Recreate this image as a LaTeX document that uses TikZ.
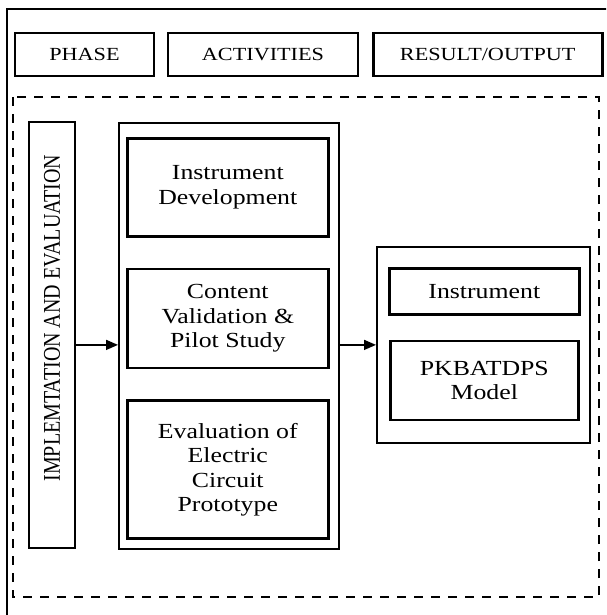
\documentclass[tikz,border=0pt]{standalone}
\usepackage{graphicx}
\usepackage{fontspec}
\setmainfont[FakeStretch=1.2]{Liberation Serif}
\newfontfamily\narrowserif{Liberation Serif}
\usetikzlibrary{positioning, arrows.meta}

\begin{document}
\begin{tikzpicture}[
    x=1pt, y=-1pt,
    every node/.style={draw, align=center, inner sep=0pt},
    header/.style={rectangle, line width=2pt, minimum height=43pt, font=\fontsize{18.5}{22}\selectfont},
    phasebox/.style={rectangle, line width=2pt, font=\narrowserif\fontsize{20}{22}\selectfont},
    group/.style={rectangle, line width=1.8pt},
    activity/.style={rectangle, line width=2.6pt, minimum width=201pt, font=\fontsize{21.5}{24.5}\selectfont},
    output/.style={rectangle, line width=2.6pt, font=\fontsize{21.5}{24.5}\selectfont},
    >={Triangle[length=12pt, width=10pt]}
]

    \clip (0,0) rectangle (606,615);

    % Page frame and dashed phase area
    \draw[line width=2pt] (7,9) rectangle (650,650);
    \draw[line width=2.5pt, dash pattern=on 9pt off 8pt] (13,97) rectangle (599,597);

    % Column headers
    \node[header, minimum width=139pt, anchor=north west] (phase) at (14,32) {PHASE};
    \node[header, minimum width=190pt, right=12pt of phase] (activities) {ACTIVITIES};
    \node[header, minimum width=229pt, line width=2.5pt, right=13pt of activities] (result) {RESULT/OUTPUT};

    % Phase
    \node[phasebox, rotate=90, minimum width=426pt, minimum height=46pt] (impl) at (52,335)
        {\hspace*{34pt}\scalebox{1}[1.2]{IMPLEMTATION AND EVALUATION}};

    % Activities
    \node[group, minimum width=220pt, minimum height=426pt, anchor=north west] (acts) at (118,122) {};
    \node[activity, minimum height=98pt, anchor=north west] (develop) at (126,137) {Instrument\\Development};
    \node[activity, minimum height=99pt, below=30pt of develop] (validate) {Content\\Validation \&\\Pilot Study};
    \node[activity, minimum height=138pt, below=30pt of validate] (prototype) {Evaluation of\\Electric\\Circuit\\Prototype};

    % Result / output
    \node[group, minimum width=213pt, minimum height=196pt, anchor=north west] (outputs) at (376,246) {};
    \node[output, minimum width=190pt, minimum height=46pt, anchor=north west] (instrument) at (388,267) {Instrument};
    \node[output, minimum width=188pt, minimum height=79pt, below=24pt of instrument] (model) {PKBATDPS\\Model};

    % Arrows
    \draw[->, line width=1.5pt] (impl.south |- outputs.west) -- (acts.west |- outputs.west);
    \draw[->, line width=1.5pt] (acts.east |- outputs.west) -- (outputs.west);

\end{tikzpicture}
\end{document}
